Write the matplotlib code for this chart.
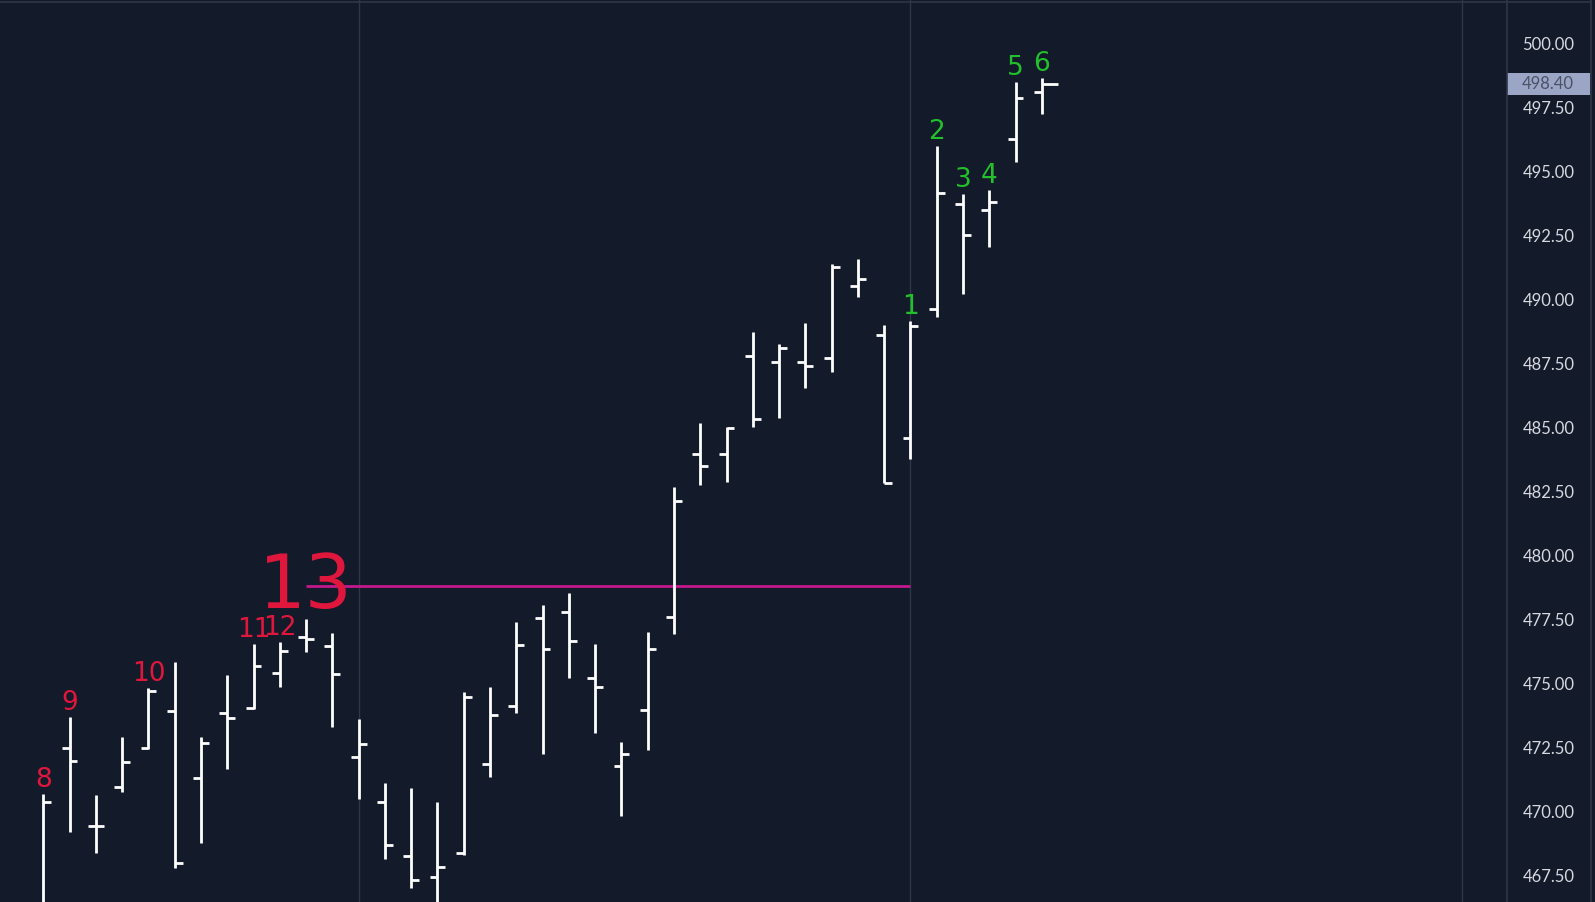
import numpy as np
import matplotlib
matplotlib.use('Agg')
import matplotlib.pyplot as plt
from matplotlib.patches import Rectangle
from matplotlib.lines import Line2D

# OHLC values (39 bars, oldest first)
opens = [466.10, 472.48, 469.45, 470.96, 472.48, 473.94, 471.30, 473.85, 474.04, 475.41,
         476.84, 476.47, 472.13, 470.39, 468.28, 467.47, 468.38, 471.86, 474.13, 477.55,
         477.81, 475.22, 471.79, 473.98, 477.62, 483.98, 483.98, 487.78, 487.55, 487.57,
         487.70, 490.52, 488.60, 484.60, 489.63, 493.71, 493.50, 496.25, 498.09]
highs = [470.69, 473.69, 470.65, 472.93, 474.85, 475.85, 472.93, 475.34, 476.54, 476.63,
         477.51, 476.99, 473.61, 471.14, 470.91, 470.37, 474.69, 474.87, 477.40, 478.06,
         478.54, 476.55, 472.74, 477.01, 482.66, 485.16, 485.03, 488.71, 488.24, 489.06,
         491.37, 491.56, 489.01, 489.17, 495.99, 494.12, 494.25, 498.47, 498.65]
lows = [465.80, 469.23, 468.41, 470.79, 472.44, 467.80, 468.80, 471.67, 474.00, 474.86,
        476.23, 473.29, 470.49, 468.16, 467.04, 466.20, 468.32, 471.35, 473.87, 472.26,
        475.21, 473.07, 469.85, 472.40, 476.94, 482.77, 482.87, 485.01, 485.38, 486.54,
        487.15, 490.09, 482.83, 483.78, 489.30, 490.21, 492.03, 495.35, 497.23]
closes = [470.40, 471.99, 469.45, 471.94, 474.73, 468.02, 472.70, 473.68, 475.69, 476.29,
          476.73, 475.37, 472.64, 468.71, 467.34, 467.86, 474.48, 473.79, 476.51, 476.34,
          476.66, 474.86, 472.25, 476.34, 482.13, 483.48, 484.99, 485.32, 488.09, 487.39,
          491.26, 490.79, 482.83, 488.96, 494.16, 492.52, 493.81, 497.87, 498.40]

# sequential count labels (bar index -> label)
red_counts = {0: '8', 1: '9', 4: '10', 8: '11', 9: '12'}
big_count = (10, '13')
green_counts = {33: '1', 34: '2', 35: '3', 36: '4', 37: '5', 38: '6'}

level_price = 478.81
level_span = (10, 33)
last_price = 498.40
yticks = np.arange(467.5, 500.01, 2.5)
xgrid = [12, 33, 54]

BG = '#131a2a'
GRID = '#2e3648'
RED = '#e0173d'
GREEN = '#22c02a'
MAG = '#c4188c'

W, H = 1595, 902
fig = plt.figure(figsize=(W / 100, H / 100), dpi=100, facecolor=BG)
ax = fig.add_axes([0, 0, 1507 / W, 1])
ax.set_facecolor(BG)

x = np.arange(len(opens))
tick = 0.30
ax.vlines(x, lows, highs, color='white', lw=2.0, zorder=3)
ax.hlines(opens, x - tick, x, color='white', lw=2.0, zorder=3)
close_len = np.full(len(x), tick)
close_len[-1] = tick * 2
ax.hlines(closes, x, x + close_len, color='white', lw=2.0, zorder=3)

# resistance level
ax.hlines(level_price, level_span[0], level_span[1], color=MAG, lw=2.0, zorder=2)

# count labels
lab_kw = dict(textcoords='offset points', ha='center', va='baseline',
              family='DejaVu Sans', zorder=4)
for i, s in red_counts.items():
    ax.annotate(s, (i, highs[i]), xytext=(0, 5), color=RED, fontsize=19, **lab_kw)
i, s = big_count
ax.annotate(s, (i, highs[i]), xytext=(0, 8), color=RED, fontsize=53, **lab_kw)
for i, s in green_counts.items():
    ax.annotate(s, (i, highs[i]), xytext=(0, 5), color=GREEN, fontsize=19, **lab_kw)

ax.set_xlim(-1.648, 55.70)
ax.set_ylim(466.48, 501.68)
ax.set_xticks(xgrid)
ax.tick_params(axis='x', length=0, labelbottom=False)
ax.grid(axis='x', color=GRID, lw=1.0)
ax.set_axisbelow(True)
ax.yaxis.tick_right()
ax.set_yticks(yticks)
ax.set_yticklabels([f'{v:.2f}' for v in yticks])
ax.tick_params(axis='y', length=0, pad=11, labelsize=12, labelcolor='#d6d9e0')
for lab in ax.get_yticklabels():
    lab.set_family('Lato')
for sp in ax.spines.values():
    sp.set_visible(False)

# last price box on the scale
ytr = ax.get_yaxis_transform()
ax.add_patch(Rectangle((1.0, last_price - 0.44), 83 / 1507, 0.88, transform=ytr,
                       facecolor='#9ba6c7', edgecolor='none', clip_on=False, zorder=5))
ax.text(1.0 + 15 / 1507, last_price, f'{last_price:.2f}', transform=ytr,
        ha='left', va='center', fontsize=12, color='#4b5266', family='Lato', zorder=6)

# frame lines
fig.add_artist(Line2D([0, 1591 / W], [1 - 1.5 / H, 1 - 1.5 / H], color=GRID, lw=1.2))
fig.add_artist(Line2D([1507 / W, 1507 / W], [0, 1], color=GRID, lw=1.2))
fig.add_artist(Line2D([1591 / W, 1591 / W], [0, 1], color=GRID, lw=1.2))

fig.savefig('out.png', dpi=100, facecolor=BG)
